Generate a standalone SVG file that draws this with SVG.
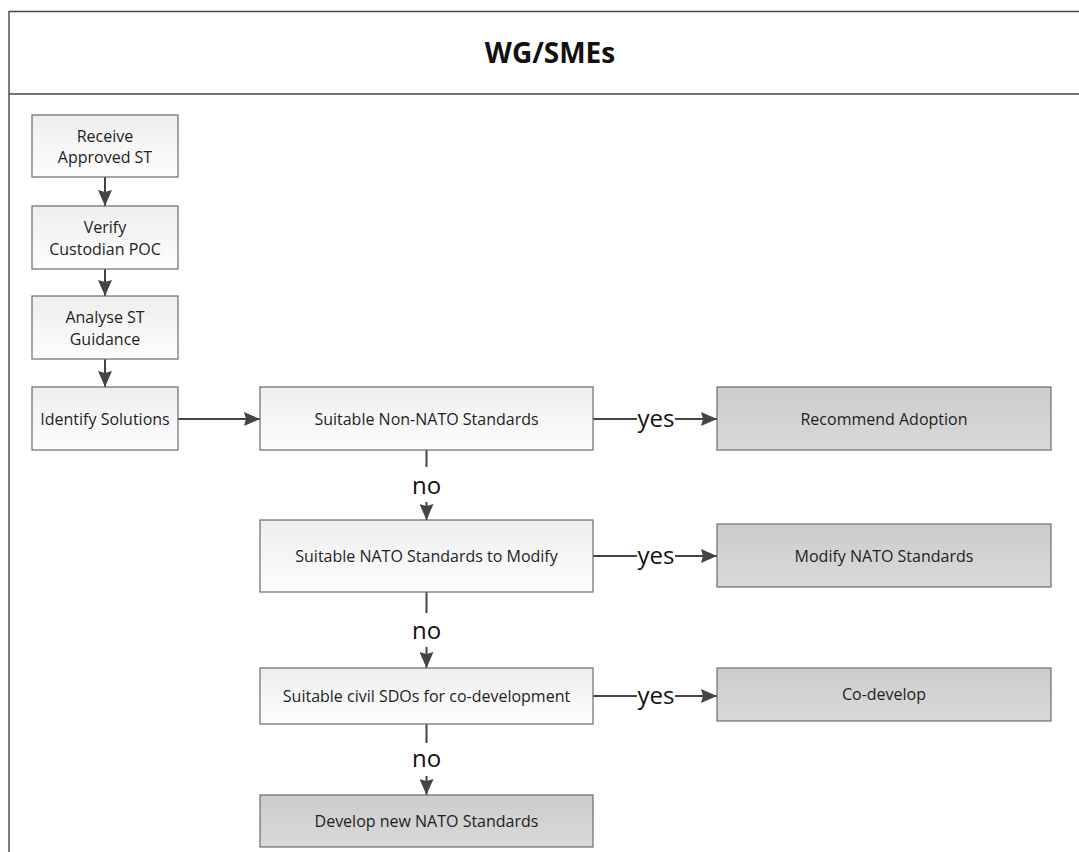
<svg xmlns="http://www.w3.org/2000/svg" width="1079" height="852" viewBox="0 0 1079 852">
<style>
  .frame{fill:none;stroke:#444;stroke-width:1.4}
  .proc{fill:url(#gLight);stroke:#6b6b6b;stroke-width:1.2}
  .term{fill:url(#gDark);stroke:#6b6b6b;stroke-width:1.2}
  .t{font-family:"Open Sans","Noto Sans","Liberation Sans",sans-serif;font-size:16px;fill:#1e1e1e;text-anchor:middle}
  .lbl{font-family:"Open Sans","Noto Sans","Liberation Sans",sans-serif;font-size:24px;fill:#111;text-anchor:middle}
  .title{font-family:"Open Sans","Noto Sans","Liberation Sans",sans-serif;font-size:28px;font-weight:bold;fill:#111;text-anchor:middle}
  .c{fill:none;stroke:#444;stroke-width:2}
</style>
<defs>
  <linearGradient id="gLight" x1="0" y1="0" x2="0" y2="1">
    <stop offset="0" stop-color="#eeeeee"/>
    <stop offset="1" stop-color="#fdfdfd"/>
  </linearGradient>
  <linearGradient id="gDark" x1="0" y1="0" x2="0" y2="1">
    <stop offset="0" stop-color="#cccccc"/>
    <stop offset="1" stop-color="#d9d9d9"/>
  </linearGradient>
  <marker id="ah" viewBox="0 0 16 14" refX="16" refY="7" markerWidth="16" markerHeight="14" markerUnits="userSpaceOnUse" orient="auto">
    <path d="M0,0 L16,7 L0,14 L2,7 z" fill="#444"/>
  </marker>
</defs>
<rect width="1079" height="852" fill="#fff"/>

<g id="pool">
  <path class="frame" d="M1090,11.5 H9 V860"/>
  <line class="frame" x1="9" y1="94" x2="1090" y2="94"/>
  <text class="title" x="550" y="63">WG/SMEs</text>
</g>

<g id="connectors">
  <line class="c" x1="105" y1="177" x2="105" y2="206" marker-end="url(#ah)"/>
  <line class="c" x1="105" y1="269" x2="105" y2="296" marker-end="url(#ah)"/>
  <line class="c" x1="105" y1="359" x2="105" y2="387" marker-end="url(#ah)"/>
  <line class="c" x1="178" y1="419" x2="260" y2="419" marker-end="url(#ah)"/>
  <line class="c" x1="593" y1="419" x2="637" y2="419"/>
  <line class="c" x1="675" y1="419" x2="717" y2="419" marker-end="url(#ah)"/>
  <text class="lbl" x="656" y="427">yes</text>
  <line class="c" x1="426.5" y1="450" x2="426.5" y2="467"/>
  <line class="c" x1="426.5" y1="502" x2="426.5" y2="520" marker-end="url(#ah)"/>
  <text class="lbl" x="426.5" y="494">no</text>
  <line class="c" x1="593" y1="556" x2="637" y2="556"/>
  <line class="c" x1="675" y1="556" x2="717" y2="556" marker-end="url(#ah)"/>
  <text class="lbl" x="656" y="564">yes</text>
  <line class="c" x1="426.5" y1="592" x2="426.5" y2="613"/>
  <line class="c" x1="426.5" y1="647" x2="426.5" y2="668" marker-end="url(#ah)"/>
  <text class="lbl" x="426.5" y="639">no</text>
  <line class="c" x1="593" y1="696" x2="637" y2="696"/>
  <line class="c" x1="675" y1="696" x2="717" y2="696" marker-end="url(#ah)"/>
  <text class="lbl" x="656" y="704">yes</text>
  <line class="c" x1="426.5" y1="724" x2="426.5" y2="743"/>
  <line class="c" x1="426.5" y1="776" x2="426.5" y2="795" marker-end="url(#ah)"/>
  <text class="lbl" x="426.5" y="767">no</text>
</g>

<g id="receive">
  <rect class="proc" x="32" y="115" width="146" height="62"/>
  <text class="t" x="105" y="141.5">Receive</text>
  <text class="t" x="105" y="163">Approved ST</text>
</g>
<g id="verify">
  <rect class="proc" x="32" y="206" width="146" height="63"/>
  <text class="t" x="105" y="233">Verify</text>
  <text class="t" x="105" y="254.5">Custodian POC</text>
</g>
<g id="analyse">
  <rect class="proc" x="32" y="296" width="146" height="63"/>
  <text class="t" x="105" y="323">Analyse ST</text>
  <text class="t" x="105" y="344.5">Guidance</text>
</g>
<g id="identify">
  <rect class="proc" x="32" y="387" width="146" height="63"/>
  <text class="t" x="105" y="424.5">Identify Solutions</text>
</g>
<g id="nonnato">
  <rect class="proc" x="260" y="387" width="333" height="63"/>
  <text class="t" x="426.5" y="424.5">Suitable Non-NATO Standards</text>
</g>
<g id="recommend">
  <rect class="term" x="717" y="387" width="334" height="63"/>
  <text class="t" x="884" y="424.5">Recommend Adoption</text>
</g>
<g id="natomodify">
  <rect class="proc" x="260" y="520" width="333" height="72"/>
  <text class="t" x="426.5" y="561.5">Suitable NATO Standards to Modify</text>
</g>
<g id="modify">
  <rect class="term" x="717" y="524" width="334" height="63"/>
  <text class="t" x="884" y="561.5">Modify NATO Standards</text>
</g>
<g id="civil">
  <rect class="proc" x="260" y="668" width="333" height="56"/>
  <text class="t" x="426.5" y="701.5">Suitable civil SDOs for co-development</text>
</g>
<g id="codevelop">
  <rect class="term" x="717" y="668" width="334" height="53"/>
  <text class="t" x="884" y="700">Co-develop</text>
</g>
<g id="develop">
  <rect class="term" x="260" y="795" width="333" height="52"/>
  <text class="t" x="426.5" y="826.5">Develop new NATO Standards</text>
</g>
</svg>
